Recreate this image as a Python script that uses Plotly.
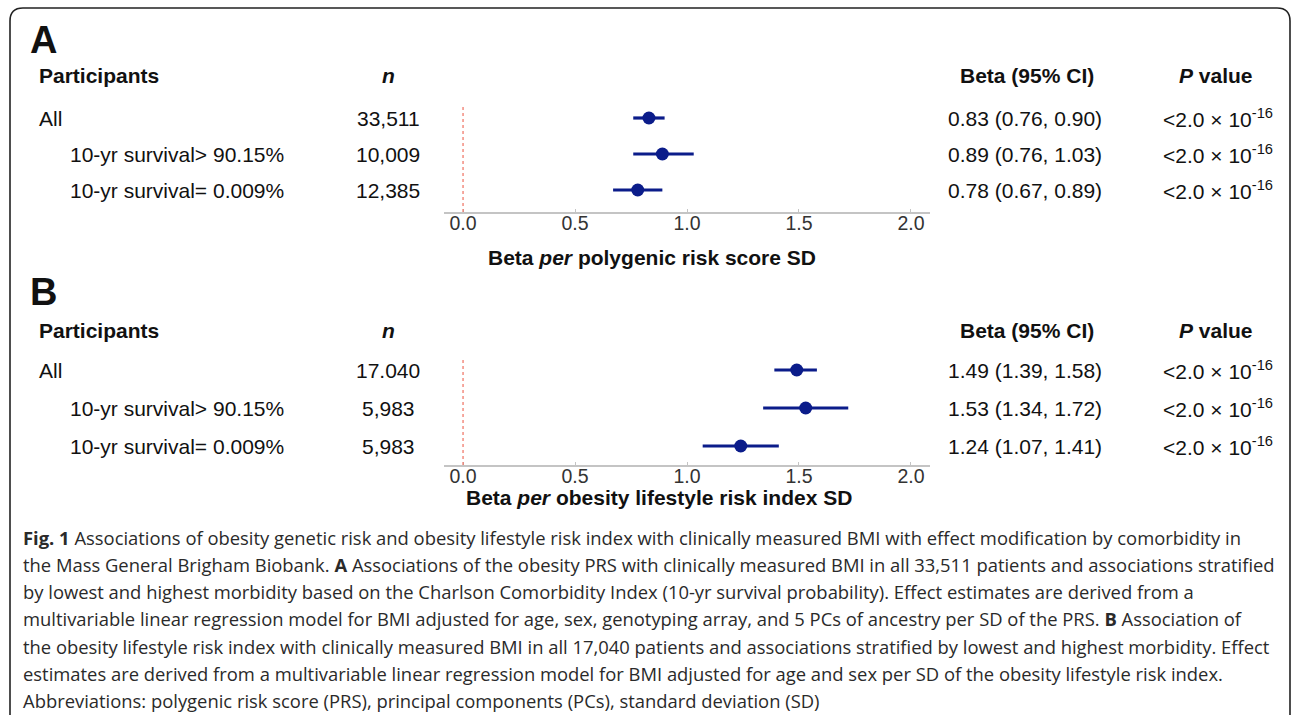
import plotly.graph_objects as go

W, H = 1292, 715

# ---- data -------------------------------------------------------------
participants = ["All", "10-yr survival> 90.15%", "10-yr survival= 0.009%"]

n_a = ["33,511", "10,009", "12,385"]
beta_a = [0.83, 0.89, 0.78]
lo_a = [0.76, 0.76, 0.67]
hi_a = [0.90, 1.03, 0.89]

n_b = ["17.040", "5,983", "5,983"]
beta_b = [1.49, 1.53, 1.24]
lo_b = [1.39, 1.34, 1.07]
hi_b = [1.58, 1.72, 1.41]

p_text = "&lt;2.0 × 10<sup>-16</sup>"
tick_vals = [0.0, 0.5, 1.0, 1.5, 2.0]
tick_text = ["0.0", "0.5", "1.0", "1.5", "2.0"]

caption_lines = [
    "<b>Fig. 1</b> Associations of obesity genetic risk and obesity lifestyle risk index with clinically measured BMI with effect modification by comorbidity in",
    "the Mass General Brigham Biobank. <b>A</b> Associations of the obesity PRS with clinically measured BMI in all 33,511 patients and associations stratified",
    "by lowest and highest morbidity based on the Charlson Comorbidity Index (10-yr survival probability). Effect estimates are derived from a",
    "multivariable linear regression model for BMI adjusted for age, sex, genotyping array, and 5 PCs of ancestry per SD of the PRS. <b>B</b> Association of",
    "the obesity lifestyle risk index with clinically measured BMI in all 17,040 patients and associations stratified by lowest and highest morbidity. Effect",
    "estimates are derived from a multivariable linear regression model for BMI adjusted for age and sex per SD of the obesity lifestyle risk index.",
    "Abbreviations: polygenic risk score (PRS), principal components (PCs), standard deviation (SD)",
]

# ---- helpers ----------------------------------------------------------
def px(x):
    return x / W


def py(y):
    return 1 - y / H


FONT = "Liberation Sans, Arial, sans-serif"
CAP_FONT = "Open Sans, sans-serif"
NAVY = "#0b1c8a"
TXT = "#111111"
FS = 21

fig = go.Figure()

panels = [
    dict(xa="x", ya="y", beta=beta_a, lo=lo_a, hi=hi_a, n=n_a,
         letter_y=40, header_y=75, top=100, bottom=212, row0=190, step=36,
         title="<b>Beta <i>per</i> polygenic risk score SD</b>", title_x=652, title_y=257, letter="A"),
    dict(xa="x2", ya="y2", beta=beta_b, lo=lo_b, hi=hi_b, n=n_b,
         letter_y=292, header_y=330, top=352, bottom=465, row0=446, step=38,
         title="<b>Beta <i>per</i> obesity lifestyle risk index SD</b>", title_x=659, title_y=497, letter="B"),
]

annotations = []
shapes = []
layout_axes = {}

for k, p in enumerate(panels):
    rows = [len(participants) - i for i in range(len(participants))]  # 3, 2, 1
    plus = [h - b for h, b in zip(p["hi"], p["beta"])]
    minus = [b - l for b, l in zip(p["beta"], p["lo"])]
    fig.add_trace(go.Scatter(
        x=p["beta"], y=rows, xaxis=p["xa"], yaxis=p["ya"],
        mode="markers",
        marker=dict(color=NAVY, size=13),
        error_x=dict(type="data", array=plus, arrayminus=minus,
                     color=NAVY, thickness=3.2, width=0),
        showlegend=False, hoverinfo="skip",
    ))

    # y range so that row 1 sits at row0 px and rows are `step` px apart
    ylo = 1 - (p["bottom"] - p["row0"]) / p["step"]
    yhi = 1 + (p["row0"] - p["top"]) / p["step"]
    sfx = "" if k == 0 else "2"
    layout_axes["xaxis" + sfx] = dict(
        domain=[px(444), px(930)], range=[-0.085, 2.085],
        anchor="y" + sfx, tickvals=tick_vals, ticktext=tick_text,
        showgrid=False, zeroline=False, showline=True,
        linecolor="#c4c4c4", linewidth=2, ticks="inside", ticklen=3,
        tickcolor="#c4c4c4", tickwidth=1, ticklabelstandoff=-7,
        tickfont=dict(family=FONT, size=19.5, color="#333333"),
        fixedrange=True,
    )
    layout_axes["yaxis" + sfx] = dict(
        domain=[py(p["bottom"]), py(p["top"])], range=[ylo, yhi],
        anchor="x" + sfx, visible=False, fixedrange=True,
    )

    # reference line at zero
    shapes.append(dict(type="line", xref=p["xa"], yref=p["ya"] + " domain",
                       x0=0, x1=0, y0=0, y1=0.94,
                       line=dict(color="#f07060", width=1.2, dash="dot")))

    # panel letter and column headers
    annotations += [
        dict(text="<b>%s</b>" % p["letter"], x=px(28), y=py(p["letter_y"]),
             xanchor="left", yanchor="middle", font=dict(family=FONT, size=38, color=TXT)),
        dict(text="<b>Participants</b>", x=px(37), y=py(p["header_y"]),
             xanchor="left", yanchor="middle", font=dict(family=FONT, size=FS, color=TXT)),
        dict(text="<b><i>n</i></b>", x=px(388), y=py(p["header_y"]),
             xanchor="center", yanchor="middle", font=dict(family=FONT, size=FS, color=TXT)),
        dict(text="<b>Beta (95% CI)</b>", x=px(1027), y=py(p["header_y"]),
             xanchor="center", yanchor="middle", font=dict(family=FONT, size=FS, color=TXT)),
        dict(text="<b><i>P</i> value</b>", x=px(1216), y=py(p["header_y"]),
             xanchor="center", yanchor="middle", font=dict(family=FONT, size=FS, color=TXT)),
        dict(text=p["title"], x=px(p["title_x"]), y=py(p["title_y"]),
             xanchor="center", yanchor="middle", font=dict(family=FONT, size=FS, color=TXT)),
    ]

    # table rows
    for i, lab in enumerate(participants):
        yv = rows[i]
        left = 37 if lab == "All" else 68
        annotations += [
            dict(text=lab, x=px(left), y=yv, xref="paper", yref=p["ya"],
                 xanchor="left", yanchor="middle", font=dict(family=FONT, size=FS, color=TXT)),
            dict(text=p["n"][i], x=px(388), y=yv, xref="paper", yref=p["ya"],
                 xanchor="center", yanchor="middle", font=dict(family=FONT, size=FS, color=TXT)),
            dict(text="%.2f (%.2f, %.2f)" % (p["beta"][i], p["lo"][i], p["hi"][i]),
                 x=px(1025), y=yv, xref="paper", yref=p["ya"],
                 xanchor="center", yanchor="middle", font=dict(family=FONT, size=FS, color=TXT)),
            dict(text=p_text, x=px(1218), y=yv, xref="paper", yref=p["ya"],
                 xanchor="center", yanchor="middle", font=dict(family=FONT, size=FS, color=TXT)),
        ]

# caption
for j, line in enumerate(caption_lines):
    annotations.append(dict(
        text=line, x=px(21), y=py(537 + 27.3 * j), xanchor="left", yanchor="middle",
        font=dict(family=CAP_FONT, size=18.4, color="#2a2a2a"),
    ))

for a in annotations:
    a.setdefault("xref", "paper")
    a.setdefault("yref", "paper")
    a["showarrow"] = False

# rounded frame, open at the bottom edge of the page
r = 13
x0, x1, y0, yb = 10, 1290, 8, 760
path = (
    f"M {px(x0)},{py(yb)} L {px(x0)},{py(y0 + r)} "
    f"Q {px(x0)},{py(y0)} {px(x0 + r)},{py(y0)} "
    f"L {px(x1 - r)},{py(y0)} "
    f"Q {px(x1)},{py(y0)} {px(x1)},{py(y0 + r)} "
    f"L {px(x1)},{py(yb)}"
)
shapes.append(dict(type="path", xref="paper", yref="paper", path=path,
                   line=dict(color="#222222", width=1.6)))

fig.update_layout(
    width=W, height=H,
    margin=dict(l=0, r=0, t=0, b=0),
    paper_bgcolor="white", plot_bgcolor="white",
    annotations=annotations, shapes=shapes,
    **layout_axes,
)

fig.write_html("out.html", config={"displayModeBar": False})
